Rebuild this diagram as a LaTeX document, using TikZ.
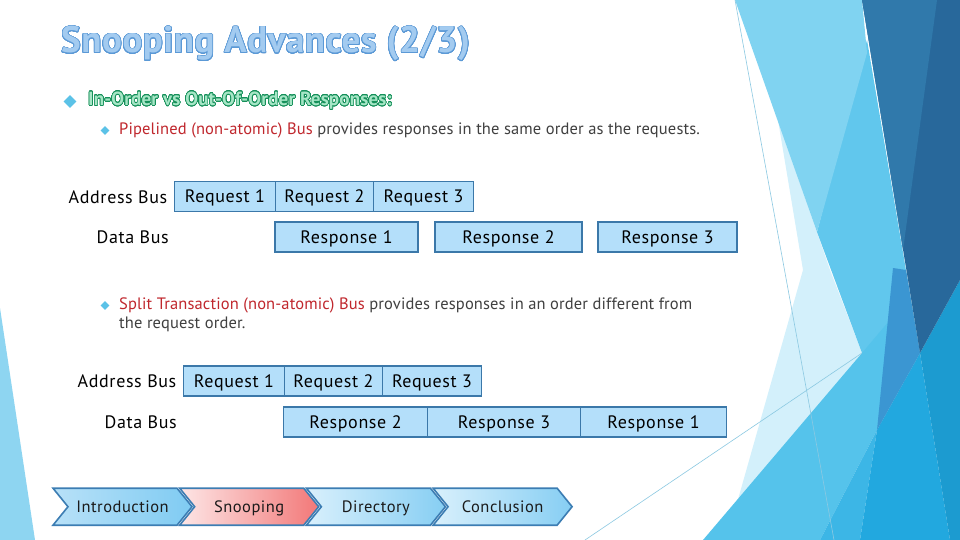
\documentclass[tikz,border=0pt]{standalone}
\usepackage{fontspec}
\setmainfont{PT Sans}
\newfontfamily\titlefont{PT Sans}[LetterSpace=1.5]
\newfontfamily\subfont{PT Sans}[LetterSpace=1]
\newfontfamily\bodyfont{PT Sans}[LetterSpace=0.8]
\newfontfamily\boxfont{PT Sans}[LetterSpace=3.5]
\newfontfamily\navfont{PT Sans}[LetterSpace=3]
\usepackage{contour}
\contournumber{32}
\usetikzlibrary{shapes.symbols,shapes.geometric}
\definecolor{titlefill}{HTML}{A3CBF0}
\definecolor{titleline}{HTML}{5B99D6}
\definecolor{subfill}{HTML}{A6E6C6}
\definecolor{subline}{HTML}{15905A}
\definecolor{bulletblue}{HTML}{5BC2E7}
\definecolor{redtxt}{HTML}{C0272D}
\definecolor{bodytxt}{HTML}{404040}
\definecolor{boxfill}{HTML}{B4DFFA}
\definecolor{boxline}{HTML}{3B78A9}
\definecolor{navline}{HTML}{3C7DB3}
\definecolor{navtxt}{HTML}{1A1A1A}
\definecolor{introL}{HTML}{B8E1F8}
\definecolor{introR}{HTML}{7FCBF2}
\definecolor{snoopL}{HTML}{FDE6E6}
\definecolor{snoopR}{HTML}{F27878}
\definecolor{otherL}{HTML}{D9F0FC}
\definecolor{otherR}{HTML}{86CEF3}
\definecolor{bgpale}{HTML}{D3F0FB}
\definecolor{bglight}{HTML}{80D3F1}
\definecolor{bgmed}{HTML}{61C7ED}
\definecolor{bgdarkA}{HTML}{3079AB}
\definecolor{bgdarkB}{HTML}{28689B}
\definecolor{bgmedblue}{HTML}{3B96D2}
\definecolor{bgbright}{HTML}{22A8DF}
\definecolor{bgbrightR}{HTML}{1C9BD0}
\definecolor{bgcyan}{HTML}{55C3EB}
\definecolor{bgcyanB}{HTML}{3CB6E6}
\definecolor{bgleft}{HTML}{8ED5F1}
\definecolor{bgthin}{HTML}{8CC9E2}
\tikzset{
  reqbox/.style={draw=boxline, line width=1.6pt, fill=boxfill, minimum height=30pt,
    inner sep=0pt, text height=12.6pt, text depth=0pt, font=\boxfont\fontsize{18}{21}\selectfont},
  buslabel/.style={anchor=base east, inner sep=0pt, font=\boxfont\fontsize{18}{21}\selectfont},
  navchev/.style={signal, signal to=east, signal from=west, signal pointer angle=102,
    draw=navline, line width=1.6pt, minimum width=139pt, minimum height=37pt,
    inner sep=0pt, text height=11.5pt, text depth=0pt, text=navtxt,
    font=\navfont\fontsize{16.5}{19}\selectfont},
  bodytext/.style={anchor=base west, inner sep=0pt, font=\bodyfont\fontsize{16.5}{19}\selectfont, text=bodytxt},
  bul/.style={diamond, fill=bulletblue, inner sep=0pt, aspect=1}
}
\begin{document}
\begin{tikzpicture}[x=1pt,y=-1pt]
\useasboundingbox (0,0) rectangle (960,540);
\fill[white] (0,0) rectangle (960,540);
% background decoration
\fill[bgleft] (0,308) -- (35,540) -- (0,540) -- cycle;
\fill[bgpale] (778,120) -- (830,270) -- (862,353) -- (737,503) -- (803,270) -- cycle;
\fill[bgmed] (867,40) -- (920,353) -- (877,430) -- (862,353) -- (817,232) -- cycle;
\fill[bglight] (735,0) -- (862,0) -- (867,53) -- (817,232) -- cycle;
\fill[bgcyan] (703,540) -- (862,353) -- (900,308) -- (877,430) -- (820,540) -- cycle;
\fill[bgcyanB] (877,430) -- (860,540) -- (820,540) -- cycle;
\fill[bgbright] (877,430) -- (920,353) -- (950,540) -- (860,540) -- cycle;
\fill[bgbrightR] (960,280) -- (920,353) -- (950,540) -- (960,540) -- cycle;
\fill[bgmedblue] (893,268) -- (906,270) -- (920,353) -- (877,430) -- cycle;
\fill[bgdarkB] (862,0) -- (960,0) -- (960,280) -- (920,353) -- cycle;
\fill[bgdarkA] (862,0) -- (937,0) -- (903,250) -- cycle;
\draw[bgthin, line width=0.6pt] (735,0) -- (834,540);
\draw[bgthin, line width=0.6pt] (862,353) -- (585,540);
% title
\node[anchor=base west, inner sep=0pt] (title) at (61,53)
  {\titlefont\fontsize{37}{40}\selectfont\bfseries\color{titlefill}\contourlength{0.7pt}\contour{titleline}{Snooping Advances (2/3)}};
% subheading
\node[bul, minimum size=13pt] (b1) at (70,101.5) {};
\node[anchor=base west, inner sep=0pt] (sub) at (88,105.5)
  {\subfont\fontsize{19}{22}\selectfont\bfseries\color{subfill}\contourlength{0.6pt}\contour{subline}{In-Order vs Out-Of-Order Responses:}};
% bullet 1
\node[bul, minimum size=9pt] (b2) at (105,130.5) {};
\node[bodytext] (p1) at (119,134.5)
  {\textcolor{redtxt}{Pipelined (non-atomic) Bus} provides responses in the same order as the requests.};
% diagram 1
\node[buslabel] (ab1) at (167.5,203) {Address Bus};
\node[buslabel] (db1) at (169,243) {Data Bus};
\node[reqbox, minimum width=101pt] (r1a) at (225,196.5) {Request 1};
\node[reqbox, minimum width=98pt] (r2a) at (324.5,196.5) {Request 2};
\node[reqbox, minimum width=100pt] (r3a) at (423.5,196.5) {Request 3};
\node[reqbox, minimum width=143pt] (d1a) at (346.5,237) {Response 1};
\node[reqbox, minimum width=147pt] (d2a) at (508.5,237) {Response 2};
\node[reqbox, minimum width=139pt] (d3a) at (667.5,237) {Response 3};
% bullet 2
\node[bul, minimum size=9pt] (b3) at (105,305.5) {};
\node[bodytext] (s1) at (119,309.5)
  {\textcolor{redtxt}{Split Transaction (non-atomic) Bus} provides responses in an order different from};
\node[bodytext] (s2) at (119,328.5) {the request order.};
% diagram 2
\node[buslabel] (ab2) at (176.5,387) {Address Bus};
\node[buslabel] (db2) at (177,428) {Data Bus};
\node[reqbox, minimum width=101pt] (r1b) at (234,381) {Request 1};
\node[reqbox, minimum width=98pt] (r2b) at (333.5,381) {Request 2};
\node[reqbox, minimum width=99pt] (r3b) at (432,381) {Request 3};
\node[reqbox, minimum width=144pt] (d2b) at (355.5,422) {Response 2};
\node[reqbox, minimum width=153pt] (d3b) at (504,422) {Response 3};
\node[reqbox, minimum width=146pt] (d1b) at (653.5,422) {Response 1};
% navigation
\node[navchev, left color=introL, right color=introR] (n1) at (122.5,506.7) {Introduction};
\node[navchev, left color=snoopL, right color=snoopR] (n2) at (249.2,506.7) {Snooping};
\node[navchev, left color=otherL, right color=otherR] (n3) at (375.9,506.7) {Directory};
\node[navchev, left color=otherL, right color=otherR] (n4) at (502.6,506.7) {Conclusion};
\end{tikzpicture}
\end{document}
